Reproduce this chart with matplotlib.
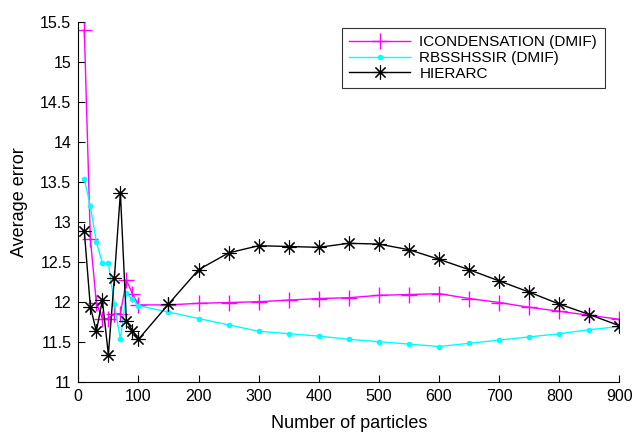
import numpy as np
import matplotlib
matplotlib.use('Agg')
import matplotlib.pyplot as plt

plt.rcParams['font.family'] = ['Liberation Sans', 'DejaVu Sans']

# number of particles
particles = [10, 20, 30, 40, 50, 60, 70, 80, 90, 100,
             150, 200, 250, 300, 350, 400, 450, 500, 550, 600,
             650, 700, 750, 800, 850, 900]

icond = [15.40, 12.79, 11.99, 11.79, 11.79, 11.85, 11.85, 12.27, 12.10, 11.96,
         11.96, 11.98, 11.99, 12.00, 12.02, 12.04, 12.05, 12.08, 12.09, 12.10,
         12.04, 11.99, 11.93, 11.88, 11.83, 11.78]

rbss = [13.53, 13.20, 12.75, 12.48, 12.48, 11.97, 11.53, 12.11, 12.03, 11.95,
        11.87, 11.79, 11.71, 11.63, 11.60, 11.57, 11.53, 11.50, 11.47, 11.44,
        11.48, 11.52, 11.56, 11.60, 11.65, 11.69]

hierarc = [12.88, 11.94, 11.63, 12.02, 11.34, 12.30, 13.36, 11.76, 11.64, 11.53,
           11.97, 12.40, 12.61, 12.70, 12.69, 12.68, 12.73, 12.72, 12.65, 12.53,
           12.40, 12.26, 12.12, 11.97, 11.84, 11.70]

fig = plt.figure(figsize=(6.34, 4.32), dpi=100)
ax = fig.add_axes([0.1235, 0.1164, 0.8535, 0.8334])

ax.plot(particles, icond, color='#ff00ff', marker='+', markersize=12,
        markeredgewidth=1.0, linewidth=1.0, label='ICONDENSATION (DMIF)')
ax.plot(particles, rbss, color='#00ffff', marker='.', markersize=6,
        linewidth=1.0, label='RBSSHSSIR (DMIF)')
ax.plot(particles, hierarc, color='black', marker=(8, 2, 0), markersize=10,
        markeredgewidth=0.8, linewidth=1.0, label='HIERARC')

ax.set_xlim(0, 900)
ax.set_ylim(11, 15.5)
ax.set_xticks(np.arange(0, 901, 100))
ax.set_yticks(np.arange(11, 15.51, 0.5))
ax.set_yticklabels(['11', '11.5', '12', '12.5', '13', '13.5', '14', '14.5', '15', '15.5'])

ax.spines['top'].set_visible(False)
ax.spines['right'].set_visible(False)
ax.tick_params(direction='in', length=5, labelsize=11.5, pad=5)

ax.set_xlabel('Number of particles', fontsize=13, labelpad=8)
ax.set_ylabel('Average error', fontsize=13, labelpad=9)

leg = ax.legend(loc='upper right', bbox_to_anchor=(0.973, 0.983), fontsize=11,
                frameon=True, fancybox=False, edgecolor='black',
                handlelength=4.0, handletextpad=0.6, borderpad=0.5,
                labelspacing=0.1, borderaxespad=0)
leg.get_frame().set_linewidth(0.8)

fig.savefig('out.png', dpi=100)
